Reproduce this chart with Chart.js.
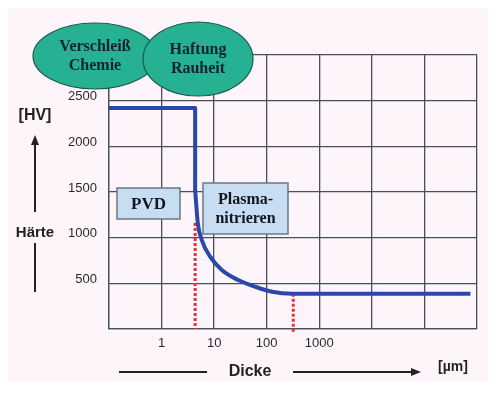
<!DOCTYPE html>
<html>
<head>
<meta charset="utf-8">
<script src="https://cdn.jsdelivr.net/npm/chart.js@4"></script>
<style>
  body { margin: 0; background: #fff; }
  canvas { display: block; }
</style>
</head>
<body>
<canvas id="haerte" width="500" height="402"></canvas>
<script>
// Härteverlauf über der Dicke (log. Achse)
var stufeX = [0.1, 4.35, 4.35];
var stufeY = [2420, 2420, 1522];
var kurveX = [4.35, 4.89, 5.83, 8.39, 14, 28.6, 60.4, 125.6, 302, 750000];
var kurveY = [1522, 1161, 974, 792, 646, 536, 463, 408, 385, 385];
var pvdGrenzeX = [4.35, 4.35];
var pvdGrenzeY = [1160, 0];
var nitrierGrenzeX = [320, 320];
var nitrierGrenzeY = [385, -40];

var xTicks = [0.1, 1, 10, 100, 1000, 10000, 100000, 1000000];
var xTickLabels = ['', '1', '10', '100', '1000', '', '', ''];
var yTicks = [0, 500, 1000, 1500, 2000, 2500, 3000];
var yTickLabels = ['', '500', '1000', '1500', '2000', '2500', ''];

function punkte(xs, ys) {
    var p = [];
    for (var i = 0; i < xs.length; i++) {
        p.push({x: xs[i], y: ys[i]});
    }
    return p;
}

function pfeil(ctx, x1, y1, x2, y2) {
    var w = Math.atan2(y2 - y1, x2 - x1);
    ctx.beginPath();
    ctx.moveTo(x1, y1);
    ctx.lineTo(x2 - 8 * Math.cos(w), y2 - 8 * Math.sin(w));
    ctx.stroke();
    ctx.beginPath();
    ctx.moveTo(x2, y2);
    ctx.lineTo(x2 - 10 * Math.cos(w) + 4 * Math.sin(w), y2 - 10 * Math.sin(w) - 4 * Math.cos(w));
    ctx.lineTo(x2 - 10 * Math.cos(w) - 4 * Math.sin(w), y2 - 10 * Math.sin(w) + 4 * Math.cos(w));
    ctx.closePath();
    ctx.fill();
}

function ellipse(ctx, cx, cy, rx, ry, zeilen) {
    ctx.beginPath();
    ctx.ellipse(cx, cy, rx, ry, 0, 0, Math.PI * 2);
    ctx.fillStyle = '#27b193';
    ctx.fill();
    ctx.lineWidth = 1.2;
    ctx.strokeStyle = '#1d5a4c';
    ctx.stroke();
    ctx.fillStyle = '#10222a';
    ctx.font = 'bold 16px "Liberation Serif"';
    ctx.textAlign = 'center';
    ctx.textBaseline = 'middle';
    ctx.fillText(zeilen[0], cx, cy - 9);
    ctx.fillText(zeilen[1], cx, cy + 10);
}

function kasten(ctx, x, y, w, h, zeilen, groesse) {
    ctx.fillStyle = '#c7ddf1';
    ctx.fillRect(x, y, w, h);
    ctx.lineWidth = 1.5;
    ctx.strokeStyle = '#6b7784';
    ctx.strokeRect(x, y, w, h);
    ctx.fillStyle = '#12161f';
    ctx.font = 'bold ' + groesse + 'px "Liberation Serif"';
    ctx.textAlign = 'center';
    ctx.textBaseline = 'middle';
    var cx = x + w / 2;
    if (zeilen.length == 1) {
        ctx.fillText(zeilen[0], cx, y + h / 2 + 1);
    } else {
        ctx.fillText(zeilen[0], cx, y + h / 2 - 9);
        ctx.fillText(zeilen[1], cx, y + h / 2 + 10);
    }
}

var hintergrund = {
    id: 'hintergrund',
    beforeDraw: function(chart) {
        var ctx = chart.ctx;
        ctx.save();
        ctx.fillStyle = '#fdf5f9';
        ctx.fillRect(8, 8, 480, 374);
        ctx.restore();
    }
};

var beschriftung = {
    id: 'beschriftung',
    afterDraw: function(chart) {
        var ctx = chart.ctx;
        ctx.save();
        // Ellipsen oben
        ellipse(ctx, 95, 56, 62, 33, ['Verschleiß', 'Chemie']);
        ellipse(ctx, 198, 59, 55, 37, ['Haftung', 'Rauheit']);
        // Kästen
        kasten(ctx, 117, 188, 63, 31, ['PVD'], 17);
        kasten(ctx, 203, 183, 85, 51, ['Plasma-', 'nitrieren'], 16);
        // Achsenbeschriftung links
        ctx.fillStyle = '#222';
        ctx.strokeStyle = '#222';
        ctx.font = 'bold 16px "Liberation Sans"';
        ctx.textAlign = 'center';
        ctx.textBaseline = 'middle';
        ctx.fillText('[HV]', 35, 116);
        ctx.font = 'bold 15px "Liberation Sans"';
        ctx.fillText('Härte', 35, 233);
        ctx.lineWidth = 2;
        pfeil(ctx, 35, 212, 35, 135);
        ctx.beginPath();
        ctx.moveTo(35, 243);
        ctx.lineTo(35, 292);
        ctx.stroke();
        // Achsenbeschriftung unten
        ctx.font = 'bold 16px "Liberation Sans"';
        ctx.fillText('Dicke', 250, 372);
        ctx.font = 'bold 14px "Liberation Sans"';
        ctx.fillText('[µm]', 453, 367);
        ctx.beginPath();
        ctx.moveTo(119, 372);
        ctx.lineTo(207, 372);
        ctx.stroke();
        pfeil(ctx, 293, 372, 421, 372);
        ctx.restore();
    }
};

var ctx = document.getElementById('haerte').getContext('2d');

var chart = new Chart(ctx, {
    type: 'scatter',
    data: {
        datasets: [{
            data: punkte(pvdGrenzeX, pvdGrenzeY),
            showLine: true,
            borderColor: '#e3323c',
            borderWidth: 3,
            borderDash: [3, 2],
            pointRadius: 0,
            clip: false,
            order: 3
        }, {
            data: punkte(nitrierGrenzeX, nitrierGrenzeY),
            showLine: true,
            borderColor: '#e3323c',
            borderWidth: 3,
            borderDash: [3, 2],
            pointRadius: 0,
            clip: false,
            order: 3
        }, {
            data: punkte(stufeX, stufeY),
            showLine: true,
            borderColor: '#2a48aa',
            borderWidth: 4,
            borderJoinStyle: 'round',
            pointRadius: 0,
            tension: 0,
            order: 1
        }, {
            data: punkte(kurveX, kurveY),
            showLine: true,
            borderColor: '#2a48aa',
            borderWidth: 4,
            pointRadius: 0,
            cubicInterpolationMode: 'monotone',
            order: 1
        }]
    },
    options: {
        responsive: false,
        animation: false,
        devicePixelRatio: 1,
        layout: { padding: { left: 0, top: 55, right: 23, bottom: 0 } },
        plugins: {
            legend: { display: false },
            tooltip: { enabled: false }
        },
        scales: {
            x: {
                type: 'logarithmic',
                min: 0.1,
                max: 1000000,
                afterBuildTicks: function(scale) {
                    scale.ticks = xTicks.map(function(v) { return {value: v}; });
                },
                afterFit: function(scale) { scale.height = 73; },
                grid: { color: '#46505b', lineWidth: 1.3, drawTicks: false },
                border: { color: '#46505b', width: 1.3 },
                ticks: {
                    autoSkip: false,
                    maxRotation: 0,
                    padding: 7,
                    color: '#2a2a2a',
                    font: { family: '"Liberation Sans"', size: 13 },
                    callback: function(v) {
                        var i = xTicks.indexOf(v);
                        return i >= 0 ? xTickLabels[i] : '';
                    }
                }
            },
            y: {
                min: 0,
                max: 3000,
                afterBuildTicks: function(scale) {
                    scale.ticks = yTicks.map(function(v) { return {value: v}; });
                },
                afterFit: function(scale) { scale.width = 109; },
                grid: { color: '#46505b', lineWidth: 1.3, drawTicks: false },
                border: { color: '#46505b', width: 1.3 },
                ticks: {
                    padding: 12,
                    labelOffset: -4,
                    color: '#2a2a2a',
                    font: { family: '"Liberation Sans"', size: 13 },
                    callback: function(v) {
                        var i = yTicks.indexOf(v);
                        return i >= 0 ? yTickLabels[i] : '';
                    }
                }
            }
        }
    },
    plugins: [hintergrund, beschriftung]
});
</script>
</body>
</html>
